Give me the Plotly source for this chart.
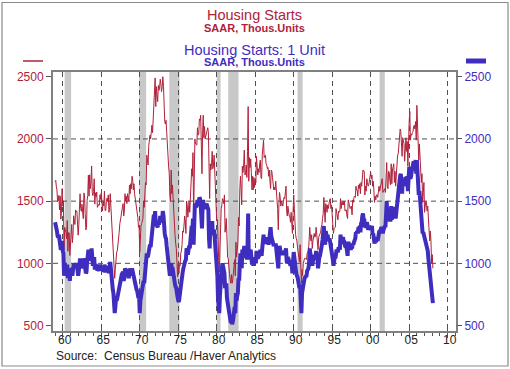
import pandas as pd
import plotly.graph_objects as go

start_month = "1959-01-01"

# Housing Starts, total (SAAR, thous. units), monthly from Jan 1959
total_starts = [
    1657, 1667, 1620, 1590, 1498, 1503, 1547, 1430, 1540, 1355, 1416, 1601,  # 1959
    1460, 1503, 1109, 1289, 1271, 1247, 1197, 1344, 1097, 1246, 1246, 1063,  # 1960
    1183, 1226, 1312, 1166, 1228, 1382, 1335, 1312, 1429, 1415, 1419, 1330,  # 1961
    1226, 1311, 1459, 1559, 1440, 1418, 1475, 1389, 1359, 1566, 1542, 1401,  # 1962
    1269, 1286, 1506, 1544, 1709, 1540, 1712, 1600, 1651, 1783, 1571, 1544,  # 1963
    1578, 1680, 1476, 1567, 1536, 1573, 1450, 1474, 1474, 1467, 1551, 1514,  # 1964
    1566, 1500, 1420, 1504, 1461, 1580, 1424, 1425, 1496, 1524, 1499, 1550,  # 1965
    1410, 1450, 1560, 1470, 1300, 1250, 1180, 1110, 1010, 880, 960, 1060,    # 1966
    1090, 1100, 1140, 1180, 1250, 1320, 1340, 1380, 1420, 1450, 1480, 1380,  # 1967
    1420, 1560, 1500, 1540, 1480, 1560, 1530, 1500, 1630, 1560, 1640, 1600,  # 1968
    1700, 1670, 1590, 1640, 1560, 1520, 1460, 1430, 1420, 1370, 1290, 1300,  # 1969
    1090, 1240, 1300, 1320, 1350, 1360, 1500, 1450, 1560, 1650, 1630, 1870,  # 1970
    1830, 1790, 1940, 1980, 2030, 2000, 2090, 2110, 2050, 2180, 2260, 2340,  # 1971
    2490, 2260, 2420, 2350, 2300, 2430, 2390, 2420, 2480, 2440, 2380, 2420,  # 1972
    2500, 2420, 2260, 2140, 2120, 2150, 2060, 2000, 1870, 1780, 1720, 1550,  # 1973
    1500, 1750, 1560, 1630, 1500, 1480, 1360, 1230, 1160, 1120, 1010, 890,   # 1974
    1000, 920, 990, 980, 1080, 1100, 1150, 1260, 1250, 1300, 1380, 1340,     # 1975
    1240, 1500, 1470, 1370, 1420, 1500, 1410, 1530, 1650, 1760, 1700, 1890,  # 1976
    1380, 1780, 2000, 1960, 1950, 1950, 2090, 2030, 2040, 2160, 2150, 2190,  # 1977
    1720, 1720, 2040, 2190, 2010, 2100, 2000, 2020, 2040, 2080, 2090, 2060,  # 1978
    1630, 1520, 1800, 1750, 1800, 1900, 1760, 1790, 1870, 1710, 1520, 1550,  # 1979
    1340, 1350, 1050, 1050, 930, 1200, 1270, 1440, 1470, 1520, 1510, 1480,   # 1980
    1550, 1250, 1300, 1360, 1140, 1050, 1040, 940, 910, 870, 840, 910,       # 1981
    840, 870, 930, 920, 1030, 900, 1170, 1050, 1140, 1170, 1370, 1300,       # 1982
    1590, 1700, 1610, 1470, 1780, 1730, 1790, 1910, 1710, 1720, 1790, 1690,  # 1983
    1900, 2260, 1660, 1850, 1770, 1840, 1730, 1590, 1700, 1590, 1690, 1610,  # 1984
    1680, 1650, 1860, 1810, 1710, 1760, 1730, 1800, 1830, 1690, 1680, 1870,  # 1985
    1930, 1990, 1850, 1870, 1870, 1800, 1790, 1760, 1770, 1700, 1750, 1660,  # 1986
    1600, 1750, 1740, 1690, 1630, 1590, 1610, 1590, 1660, 1520, 1510, 1440,  # 1987
    1270, 1480, 1570, 1530, 1460, 1500, 1480, 1460, 1500, 1530, 1520, 1560,  # 1988
    1620, 1420, 1380, 1460, 1400, 1380, 1380, 1330, 1410, 1350, 1240, 1410,  # 1989
    1550, 1440, 1300, 1230, 1200, 1180, 1130, 1090, 1060, 1010, 1150, 970,   # 1990
    840, 950, 900, 1000, 1030, 1040, 1040, 1030, 1030, 1080, 1100, 1100,     # 1991
    1180, 1290, 1220, 1180, 1230, 1120, 1180, 1220, 1240, 1210, 1220, 1290,  # 1992
    1190, 1200, 1110, 1210, 1220, 1240, 1250, 1290, 1310, 1360, 1400, 1530,  # 1993
    1340, 1330, 1480, 1460, 1410, 1470, 1440, 1490, 1510, 1520, 1440, 1470,  # 1994
    1410, 1320, 1240, 1280, 1290, 1290, 1440, 1410, 1360, 1350, 1420, 1410,  # 1995
    1420, 1520, 1440, 1490, 1470, 1500, 1470, 1500, 1420, 1430, 1430, 1380,  # 1996
    1360, 1510, 1480, 1450, 1440, 1450, 1460, 1390, 1510, 1490, 1530, 1540,  # 1997
    1530, 1620, 1590, 1590, 1540, 1630, 1600, 1640, 1560, 1650, 1620, 1750,  # 1998
    1750, 1740, 1740, 1550, 1620, 1580, 1680, 1650, 1620, 1630, 1680, 1710,  # 1999
    1730, 1680, 1710, 1620, 1660, 1590, 1490, 1540, 1510, 1550, 1550, 1530,  # 2000
    1600, 1620, 1580, 1600, 1620, 1640, 1680, 1570, 1580, 1590, 1600, 1570,  # 2001
    1700, 1810, 1620, 1600, 1740, 1730, 1660, 1630, 1800, 1640, 1750, 1790,  # 2002
    1800, 1650, 1740, 1620, 1730, 1770, 1870, 1880, 1940, 1970, 2080, 2060,  # 2003
    1910, 1860, 2010, 1960, 1960, 1820, 2000, 2010, 1900, 1980, 1780, 2040,  # 2004
    2140, 2220, 1990, 2040, 2030, 2050, 2060, 2100, 2110, 2080, 2140, 1990,  # 2005
    2270, 2120, 1970, 1830, 1960, 1830, 1740, 1650, 1720, 1490, 1570, 1650,  # 2006
    1410, 1500, 1500, 1490, 1420, 1460, 1380, 1340, 1180, 1260, 1180, 1000,  # 2007
    1070, 960,                                                               # 2008
]

# Housing Starts: 1 Unit (SAAR, thous. units), monthly from Jan 1959
single_family_starts = [
    1330, 1310, 1290, 1260, 1220, 1210, 1230, 1180, 1200, 1110, 1120, 1180,  # 1959
    1100, 1080, 900, 1000, 980, 960, 940, 990, 880, 930, 930, 860,           # 1960
    930, 950, 960, 900, 940, 1000, 980, 960, 1000, 1000, 990, 960,           # 1961
    900, 940, 990, 1040, 990, 980, 1000, 960, 960, 1040, 1020, 960,          # 1962
    920, 930, 1010, 1040, 1110, 1020, 1080, 1040, 1060, 1120, 1010, 980,     # 1963
    1010, 1050, 950, 990, 980, 990, 940, 960, 950, 940, 990, 960,            # 1964
    980, 950, 970, 960, 930, 990, 940, 940, 960, 970, 960, 980,              # 1965
    920, 950, 1010, 960, 870, 840, 790, 760, 700, 600, 650, 720,             # 1966
    700, 720, 750, 770, 800, 850, 860, 880, 910, 920, 930, 860,              # 1967
    880, 960, 920, 940, 900, 940, 910, 880, 960, 920, 950, 900,              # 1968
    960, 930, 900, 900, 860, 830, 800, 790, 780, 760, 720, 740,              # 1969
    600, 700, 730, 740, 780, 800, 860, 840, 900, 960, 980, 1080,             # 1970
    1050, 1060, 1110, 1130, 1150, 1130, 1190, 1210, 1280, 1330, 1390, 1360,  # 1971
    1420, 1300, 1340, 1300, 1290, 1330, 1310, 1340, 1380, 1350, 1330, 1360,  # 1972
    1420, 1380, 1260, 1240, 1210, 1200, 1140, 1100, 1060, 1010, 980, 900,    # 1973
    930, 1000, 960, 970, 920, 900, 860, 830, 810, 800, 760, 700,             # 1974
    700, 690, 740, 760, 830, 850, 880, 930, 960, 990, 1020, 1020,            # 1975
    1030, 1120, 1110, 1070, 1110, 1140, 1120, 1170, 1240, 1300, 1270, 1360,  # 1976
    1150, 1380, 1480, 1460, 1450, 1470, 1510, 1480, 1490, 1530, 1520, 1470,  # 1977
    1300, 1280, 1440, 1510, 1440, 1480, 1450, 1440, 1480, 1460, 1440, 1430,  # 1978
    1200, 1120, 1300, 1300, 1310, 1340, 1240, 1240, 1270, 1200, 1060, 1060,  # 1979
    980, 900, 720, 650, 600, 740, 840, 960, 960, 1000, 960, 920,             # 1980
    920, 800, 820, 840, 720, 690, 660, 620, 590, 560, 520, 570,              # 1981
    510, 530, 560, 590, 650, 600, 760, 700, 740, 760, 880, 860,              # 1982
    990, 1080, 1030, 960, 1110, 1070, 1100, 1140, 1060, 1050, 1080, 1030,    # 1983
    1120, 1400, 1030, 1110, 1080, 1110, 1060, 990, 1020, 980, 1030, 1020,    # 1984
    1050, 1000, 1100, 1070, 1040, 1050, 1060, 1070, 1110, 1080, 1060, 1120,  # 1985
    1170, 1230, 1160, 1200, 1210, 1170, 1170, 1190, 1180, 1150, 1200, 1180,  # 1986
    1290, 1220, 1200, 1180, 1140, 1140, 1150, 1140, 1160, 1080, 1100, 1040,  # 1987
    960, 1090, 1140, 1110, 1070, 1090, 1080, 1070, 1080, 1100, 1080, 1100,   # 1988
    1120, 1020, 1000, 1050, 1020, 1000, 1000, 980, 1020, 990, 920, 1020,     # 1989
    1090, 1050, 980, 930, 920, 900, 890, 860, 830, 800, 830, 720,            # 1990
    600, 760, 800, 860, 880, 880, 890, 900, 900, 940, 950, 960,              # 1991
    1000, 1120, 1080, 1040, 1070, 980, 1030, 1050, 1050, 1040, 1050, 1100,   # 1992
    1030, 1040, 960, 1040, 1050, 1060, 1080, 1120, 1150, 1190, 1230, 1300,   # 1993
    1200, 1150, 1260, 1230, 1200, 1230, 1180, 1190, 1200, 1170, 1140, 1140,  # 1994
    1070, 1030, 980, 1030, 1050, 1040, 1100, 1110, 1100, 1090, 1130, 1110,   # 1995
    1110, 1230, 1180, 1190, 1200, 1210, 1170, 1170, 1140, 1130, 1140, 1090,  # 1996
    1060, 1160, 1160, 1140, 1120, 1110, 1130, 1120, 1160, 1150, 1170, 1180,  # 1997
    1200, 1250, 1240, 1260, 1240, 1290, 1280, 1300, 1250, 1320, 1330, 1380,  # 1998
    1400, 1350, 1360, 1290, 1300, 1290, 1330, 1310, 1270, 1290, 1300, 1280,  # 1999
    1300, 1280, 1300, 1230, 1240, 1200, 1160, 1180, 1170, 1200, 1210, 1180,  # 2000
    1240, 1250, 1250, 1260, 1280, 1290, 1280, 1240, 1270, 1290, 1300, 1290,  # 2001
    1390, 1500, 1370, 1340, 1360, 1380, 1350, 1350, 1460, 1350, 1420, 1450,  # 2002
    1440, 1360, 1430, 1360, 1420, 1480, 1550, 1570, 1620, 1660, 1700, 1720,  # 2003
    1640, 1560, 1680, 1640, 1640, 1620, 1680, 1680, 1620, 1700, 1580, 1720,  # 2004
    1760, 1760, 1680, 1700, 1740, 1760, 1780, 1820, 1800, 1780, 1830, 1720,  # 2005
    1830, 1760, 1660, 1550, 1580, 1520, 1430, 1370, 1370, 1240, 1250, 1230,  # 2006
    1190, 1200, 1170, 1150, 1110, 1100, 1040, 970, 930, 900, 860, 780,       # 2007
    730, 680,                                                                # 2008
]

recession_starts = ["1960-04-01", "1969-12-01", "1973-11-01", "1980-01-01",
                    "1981-07-01", "1990-07-01", "2001-03-01"]
recession_ends = ["1961-02-01", "1970-11-01", "1975-03-01", "1980-07-01",
                  "1982-11-01", "1991-03-01", "2001-11-01"]

year_ticks = [f"{y}-01-01" for y in range(1960, 2011, 5)]
year_labels = ["60", "65", "70", "75", "80", "85", "90", "95", "00", "05", "10"]
value_ticks = [500, 1000, 1500, 2000, 2500]
grid_levels = [1000, 1500, 2000]

RED = "#B0213A"
BLUE = "#3F2DBF"
FONT = "Liberation Sans, Arial, sans-serif"
AXIS_GRAY = "#808080"
GRID = "#505050"

dates_total = pd.date_range(start_month, periods=len(total_starts), freq="MS")
dates_single = pd.date_range(start_month, periods=len(single_family_starts), freq="MS")

y_range = [456, 2538]
x_range = ["1958-09-25", "2011-02-01"]

fig = go.Figure()
fig.add_trace(go.Scatter(x=dates_total, y=total_starts, mode="lines",
                         line=dict(color=RED, width=1), yaxis="y",
                         showlegend=False, hoverinfo="skip"))
fig.add_trace(go.Scatter(x=dates_single, y=single_family_starts, mode="lines",
                         line=dict(color=BLUE, width=4), yaxis="y2",
                         showlegend=False, hoverinfo="skip"))
# helper (empty) trace for inner tick marks axis
fig.add_trace(go.Scatter(x=[dates_total[0]], y=[None], xaxis="x2", yaxis="y",
                         mode="lines", showlegend=False, hoverinfo="skip"))

shapes = []
for s, e in zip(recession_starts, recession_ends):
    shapes.append(dict(type="rect", xref="x", yref="paper", x0=s, x1=e, y0=0, y1=1,
                       fillcolor="#c8c8c8", line=dict(width=0), layer="below"))
for g in grid_levels:
    shapes.append(dict(type="line", xref="paper", yref="y", x0=0, x1=1, y0=g, y1=g,
                       line=dict(color=GRID, width=1, dash="5px,4px"), layer="below"))

# page frame
L, R, T, B = 53, 54, 72, 38
W, H = 510 - L - R, 369 - T - B


def px_x(p):
    return (p - L) / W


def px_y(p):
    return (369 - B - p) / H


shapes.append(dict(type="rect", xref="paper", yref="paper",
                   x0=px_x(2), x1=px_x(508), y0=px_y(366), y1=px_y(2.5),
                   line=dict(color="#8a8a8a", width=1.2), fillcolor="rgba(0,0,0,0)",
                   layer="above"))
# legend keys
shapes.append(dict(type="line", xref="paper", yref="paper",
                   x0=px_x(23), x1=px_x(43), y0=px_y(61), y1=px_y(61),
                   line=dict(color=RED, width=1.5)))
shapes.append(dict(type="line", xref="paper", yref="paper",
                   x0=px_x(466), x1=px_x(486), y0=px_y(61), y1=px_y(61),
                   line=dict(color=BLUE, width=5)))

annotations = [
    dict(text="Housing Starts", x=0.5, y=px_y(15), xref="paper", yref="paper",
         showarrow=False, xanchor="center", yanchor="middle",
         font=dict(family=FONT, size=14.5, color=RED)),
    dict(text="<b>SAAR, Thous.Units</b>", x=0.5, y=px_y(27.5), xref="paper", yref="paper",
         showarrow=False, xanchor="center", yanchor="middle",
         font=dict(family=FONT, size=11, color=RED)),
    dict(text="Housing Starts: 1 Unit", x=0.5, y=px_y(50), xref="paper", yref="paper",
         showarrow=False, xanchor="center", yanchor="middle",
         font=dict(family=FONT, size=14.5, color=BLUE)),
    dict(text="<b>SAAR, Thous.Units</b>", x=0.5, y=px_y(62.5), xref="paper", yref="paper",
         showarrow=False, xanchor="center", yanchor="middle",
         font=dict(family=FONT, size=11, color=BLUE)),
    dict(text="Source:\u00a0 Census Bureau /Haver Analytics", x=px_x(54), y=px_y(356),
         xref="paper", yref="paper", showarrow=False, xanchor="left", yanchor="middle",
         font=dict(family=FONT, size=12, color="#222222")),
]

fig.update_layout(
    template="none",
    width=510, height=369,
    margin=dict(l=L, r=R, t=T, b=B, autoexpand=False),
    paper_bgcolor="white", plot_bgcolor="white",
    shapes=shapes, annotations=annotations,
    font=dict(family=FONT),
    showlegend=False,
    xaxis=dict(
        type="date", range=x_range, automargin=False,
        tickvals=year_ticks, ticktext=year_labels, ticklabelshift=2,
        ticklabelstandoff=-8,
        ticks="outside", ticklen=5, tickwidth=1, tickcolor="#555",
        tickfont=dict(family=FONT, size=12, color="#222222"),
        showgrid=True, gridcolor=GRID, gridwidth=1, griddash="5px,4px",
        showline=True, linecolor=AXIS_GRAY, linewidth=2, mirror=True,
        zeroline=False,
        minor=dict(dtick="M12", ticks="outside", ticklen=3, tickcolor="#555",
                   showgrid=False),
    ),
    xaxis2=dict(
        type="date", overlaying="x", matches="x", anchor="y", side="bottom",
        tickvals=year_ticks, showticklabels=False, automargin=False,
        ticks="inside", ticklen=4, tickwidth=1, tickcolor="#555",
        showgrid=False, showline=False, zeroline=False,
    ),
    yaxis=dict(
        range=y_range, tickvals=value_ticks, automargin=False,
        ticks="outside", ticklen=5, tickwidth=1, tickcolor="#555",
        tickfont=dict(family=FONT, size=12, color=RED),
        showgrid=False, zeroline=False,
        showline=True, linecolor=AXIS_GRAY, linewidth=2, mirror=True,
    ),
    yaxis2=dict(
        range=y_range, tickvals=value_ticks, overlaying="y", side="right",
        automargin=False,
        ticks="outside", ticklen=5, tickwidth=1, tickcolor="#555",
        tickfont=dict(family=FONT, size=12, color=BLUE),
        showgrid=False, zeroline=False, showline=False,
    ),
)

fig.write_html("out.html",
               config={"displayModeBar": False},
               post_script="document.body.style.margin='0px';"
                           "document.body.style.overflow='hidden';")
